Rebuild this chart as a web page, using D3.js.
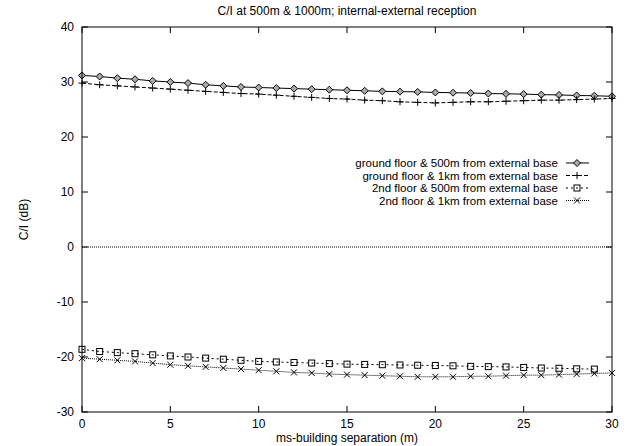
<!DOCTYPE html>
<html>
<head>
<meta charset="utf-8">
<script src="https://cdn.jsdelivr.net/npm/d3@7"></script>
<style>
  body { margin: 0; background: #fff; }
  text { font-family: "Liberation Sans", Arial, Helvetica, sans-serif; font-size: 12px; fill: #000; }
  text.legend { font-size: 11.5px; }
</style>
</head>
<body>
<div id="chart"></div>
<script>
// separation in metres
var sep = d3.range(0, 31)

var ground500 = [31.2, 31.0, 30.7, 30.5, 30.2, 30.0, 29.8, 29.5, 29.3, 29.1, 29.0, 28.9, 28.8, 28.7, 28.6, 28.5,
  28.4, 28.3, 28.25, 28.2, 28.1, 28.05, 28.0, 27.9, 27.85, 27.8, 27.7, 27.65, 27.55, 27.5, 27.4]
var ground1k = [29.8, 29.5, 29.3, 29.1, 28.9, 28.7, 28.5, 28.3, 28.1, 27.9, 27.8, 27.6, 27.4, 27.2, 27.0, 26.9,
  26.7, 26.6, 26.4, 26.3, 26.2, 26.3, 26.4, 26.4, 26.5, 26.6, 26.7, 26.7, 26.8, 26.9, 27.0]
var second500 = [-18.6, -19.0, -19.2, -19.4, -19.6, -19.8, -20.0, -20.2, -20.4, -20.6, -20.8, -20.9, -21.0, -21.1,
  -21.2, -21.3, -21.35, -21.4, -21.45, -21.5, -21.55, -21.6, -21.7, -21.75, -21.8, -21.9, -22.0, -22.05, -22.15, -22.2]
var second1k = [-20.2, -20.4, -20.6, -20.8, -21.1, -21.4, -21.6, -21.8, -22.0, -22.2, -22.4, -22.6, -22.8, -22.9,
  -23.1, -23.2, -23.3, -23.4, -23.5, -23.6, -23.6, -23.6, -23.5, -23.5, -23.4, -23.3, -23.3, -23.2, -23.1, -23.0, -22.9]

var seriesNames = ['ground floor & 500m from external base', 'ground floor & 1km from external base',
  '2nd floor & 500m from external base', '2nd floor & 1km from external base']
var xTicks = [0, 5, 10, 15, 20, 25, 30]
var yTicks = [-30, -20, -10, 0, 10, 20, 30, 40]

var width = 629, height = 446
var margin = {top: 27, right: 17, bottom: 34, left: 82}

var svg = d3.select('#chart').append('svg')
  .attr('width', width)
  .attr('height', height)

var x = d3.scaleLinear().domain([0, 30]).range([margin.left, width - margin.right])
var y = d3.scaleLinear().domain([-30, 40]).range([height - margin.bottom, margin.top])

var series = [
  {name: seriesNames[0], values: ground500, dash: null, marker: 'diamond'},
  {name: seriesNames[1], values: ground1k, dash: '4,2', marker: 'plus'},
  {name: seriesNames[2], values: second500, dash: '2,3', marker: 'square'},
  {name: seriesNames[3], values: second1k, dash: '1,1', marker: 'cross'}
]

// zero axis
svg.append('line')
  .attr('x1', x(0)).attr('x2', x(30))
  .attr('y1', y(0)).attr('y2', y(0))
  .attr('stroke', '#000').attr('stroke-width', 1)
  .attr('stroke-dasharray', '1,1')

// ticks on all four sides, pointing inwards
var tickLen = 6
var g = svg.append('g').attr('stroke', '#000').attr('stroke-width', 1)
yTicks.forEach(function(t) {
  g.append('line').attr('x1', x(0)).attr('x2', x(0) + tickLen).attr('y1', y(t)).attr('y2', y(t))
  g.append('line').attr('x1', x(30)).attr('x2', x(30) - tickLen).attr('y1', y(t)).attr('y2', y(t))
})
xTicks.forEach(function(t) {
  g.append('line').attr('x1', x(t)).attr('x2', x(t)).attr('y1', y(-30)).attr('y2', y(-30) - tickLen)
  g.append('line').attr('x1', x(t)).attr('x2', x(t)).attr('y1', y(40)).attr('y2', y(40) + tickLen)
})

svg.selectAll('.ylab')
  .data(yTicks)
  .enter().append('text')
  .attr('x', x(0) - 8)
  .attr('y', d => y(d))
  .attr('dy', '0.35em')
  .attr('text-anchor', 'end')
  .text(d => d)

svg.selectAll('.xlab')
  .data(xTicks)
  .enter().append('text')
  .attr('x', d => x(d))
  .attr('y', y(-30) + 16)
  .attr('text-anchor', 'middle')
  .text(d => d)

svg.append('text')
  .attr('x', (x(0) + x(30)) / 2)
  .attr('y', 15)
  .attr('text-anchor', 'middle')
  .text('C/I at 500m & 1000m; internal-external reception')

svg.append('text')
  .attr('x', (x(0) + x(30)) / 2)
  .attr('y', 442)
  .attr('text-anchor', 'middle')
  .text('ms-building separation (m)')

svg.append('text')
  .attr('transform', 'translate(28,' + ((y(-30) + y(40)) / 2) + ') rotate(-90)')
  .attr('text-anchor', 'middle')
  .text('C/I (dB)')

function drawMarker(sel, type, cx, cy) {
  var r = 3.5
  if (type === 'diamond') {
    sel.append('path')
      .attr('d', 'M' + cx + ',' + (cy - r) + 'L' + (cx + r) + ',' + cy + 'L' + cx + ',' + (cy + r) + 'L' + (cx - r) + ',' + cy + 'Z')
      .attr('fill', '#aaa').attr('stroke', '#000').attr('stroke-width', 1)
  } else if (type === 'plus') {
    sel.append('path')
      .attr('d', 'M' + (cx - r) + ',' + cy + 'H' + (cx + r) + 'M' + cx + ',' + (cy - r) + 'V' + (cy + r))
      .attr('stroke', '#000').attr('stroke-width', 1)
  } else if (type === 'square') {
    sel.append('rect')
      .attr('x', cx - 3).attr('y', cy - 3).attr('width', 6).attr('height', 6)
      .attr('fill', 'none').attr('stroke', '#000').attr('stroke-width', 1)
  } else {
    var c = 3
    sel.append('path')
      .attr('d', 'M' + (cx - c) + ',' + (cy - c) + 'L' + (cx + c) + ',' + (cy + c) + 'M' + (cx - c) + ',' + (cy + c) + 'L' + (cx + c) + ',' + (cy - c))
      .attr('stroke', '#000').attr('stroke-width', 1)
  }
}

var line = d3.line().x(d => x(d[0])).y(d => y(d[1]))

series.forEach(function(s) {
  var pts = s.values.map((v, i) => [sep[i], v])
  svg.append('path')
    .datum(pts)
    .attr('d', line)
    .attr('fill', 'none')
    .attr('stroke', '#000')
    .attr('stroke-width', 1)
    .attr('stroke-dasharray', s.dash)
  var mg = svg.append('g')
  pts.forEach(function(p) { drawMarker(mg, s.marker, x(p[0]), y(p[1])) })
})

// legend
var legendX = 558, legendY = 163, rowH = 12.5
series.forEach(function(s, i) {
  var ly = legendY + i * rowH
  svg.append('text')
    .attr('class', 'legend')
    .attr('x', legendX)
    .attr('y', ly)
    .attr('dy', '0.35em')
    .attr('text-anchor', 'end')
    .text(s.name)
  svg.append('line')
    .attr('x1', legendX + 8).attr('x2', legendX + 31)
    .attr('y1', ly).attr('y2', ly)
    .attr('stroke', '#000').attr('stroke-width', 1)
    .attr('stroke-dasharray', s.dash)
  drawMarker(svg.append('g'), s.marker, legendX + 19, ly)
})

// border
svg.append('rect')
  .attr('x', x(0)).attr('y', y(40))
  .attr('width', x(30) - x(0)).attr('height', y(-30) - y(40))
  .attr('fill', 'none').attr('stroke', '#000').attr('stroke-width', 1)
</script>
</body>
</html>
